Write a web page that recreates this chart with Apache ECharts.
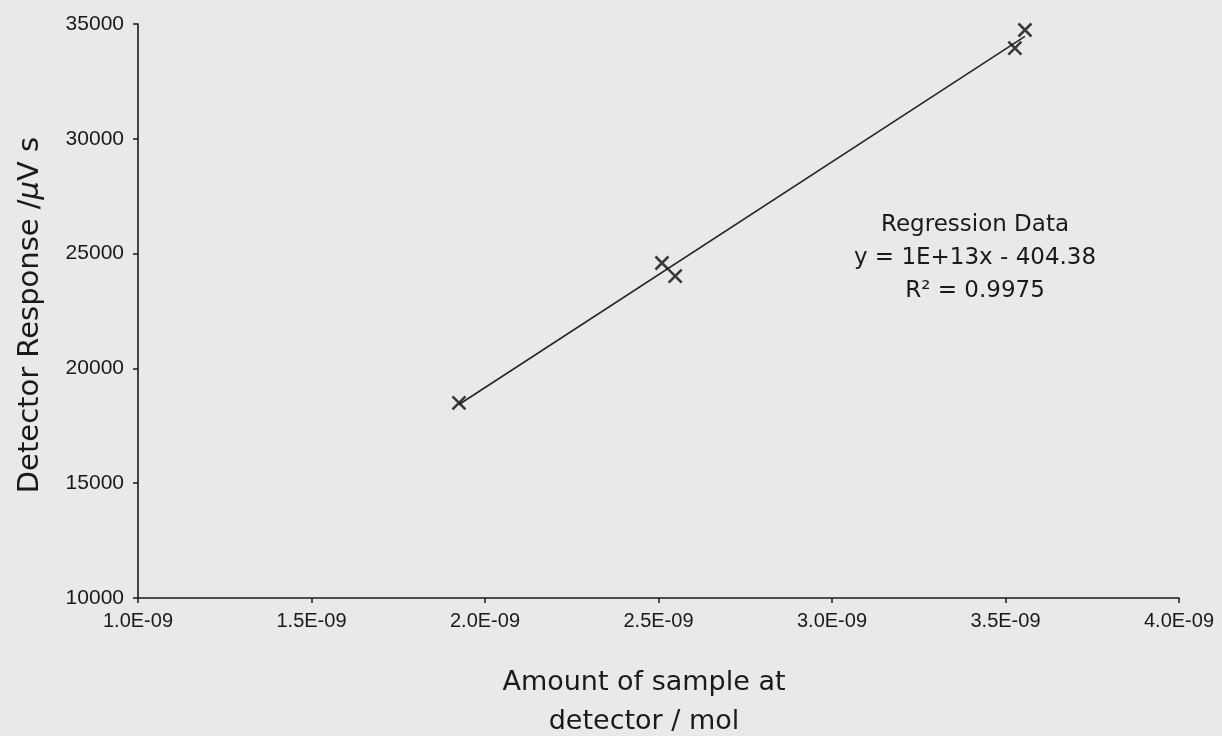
<!DOCTYPE html>
<html>
<head>
<meta charset="utf-8">
<script src="https://cdn.jsdelivr.net/npm/echarts@6/dist/echarts.min.js"></script>
<style>html,body{margin:0;padding:0;background:#e9e9e9;}#c{width:1222px;height:736px;}</style>
</head>
<body>
<div id="c"></div>
<script>
// Data
var amountMol = [1.925e-9, 2.510e-9, 2.548e-9, 3.527e-9, 3.556e-9];
var responseUVs = [18500, 24590, 24020, 33950, 34740];
var regressionLines = ['Regression Data', 'y = 1E+13x - 404.38', 'R\u00B2 = 0.9975'];
var xAxisTitle = 'Amount of sample at\ndetector / mol';
var yAxisTitleParts = ['Detector Response /', '\u03BC', 'V s'];

function fmtExp(v) {
  var s = Number(v).toExponential(1).split('e');
  var e = parseInt(s[1], 10);
  return s[0] + 'E' + (e < 0 ? '-' : '+') + String(Math.abs(e)).padStart(2, '0');
}

// least-squares fit computed from the data
var n = amountMol.length, mx = 0, my = 0;
for (var i = 0; i < n; i++) { mx += amountMol[i]; my += responseUVs[i]; }
mx /= n; my /= n;
var sxy = 0, sxx = 0;
for (i = 0; i < n; i++) { sxy += (amountMol[i] - mx) * (responseUVs[i] - my); sxx += (amountMol[i] - mx) * (amountMol[i] - mx); }
var slope = sxy / sxx, icpt = my - slope * mx;
var xmin = Math.min.apply(null, amountMol), xmax = Math.max.apply(null, amountMol);
var fitLine = [[xmin, slope * xmin + icpt], [xmax, slope * xmax + icpt]];

var pts = amountMol.map(function (x, k) { return [x, responseUVs[k]]; });
var ink = '#1a1a1a';

var chart = echarts.init(document.getElementById('c'));
chart.setOption({
  backgroundColor: '#e9e9e9',
  animation: false,
  grid: { left: 138, right: 43, top: 24, bottom: 138 },
  xAxis: {
    type: 'value', min: 1e-9, max: 4e-9, interval: 0.5e-9,
    splitLine: { show: false },
    axisLine: { lineStyle: { color: ink, width: 1.6 } },
    axisTick: { show: true, length: 5, lineStyle: { color: ink, width: 1.5 } },
    axisLabel: { formatter: fmtExp, color: ink, fontFamily: 'Liberation Sans', fontSize: 20, margin: 13 }
  },
  yAxis: {
    type: 'value', min: 10000, max: 35000, interval: 5000,
    splitLine: { show: false },
    axisLine: { show: true, lineStyle: { color: ink, width: 1.6 } },
    axisTick: { show: true, length: 5, lineStyle: { color: ink, width: 1.5 } },
    axisLabel: { formatter: function (v) { return String(v); }, color: ink, fontFamily: 'Liberation Sans', fontSize: 21, margin: 14 }
  },
  series: [
    {
      type: 'line', data: fitLine, symbol: 'none', silent: true,
      lineStyle: { color: '#262626', width: 1.6 }, z: 2
    },
    {
      type: 'scatter', data: pts,
      symbol: 'path://M0,0L10,10M10,0L0,10', symbolSize: 13,
      itemStyle: { color: 'rgba(0,0,0,0)', borderColor: '#0d0d0d', borderWidth: 2.6 }, z: 3
    }
  ],
  graphic: [
    {
      type: 'text', x: 30, y: 315, rotation: Math.PI / 2,
      style: {
        text: '{n|' + yAxisTitleParts[0] + '}{i|' + yAxisTitleParts[1] + '}{n|' + yAxisTitleParts[2] + '}',
        align: 'center', verticalAlign: 'middle',
        rich: {
          n: { fontFamily: 'DejaVu Sans', fontSize: 29, fill: ink, color: ink },
          i: { fontFamily: 'DejaVu Sans', fontSize: 29, fontStyle: 'italic', fill: ink, color: ink }
        }
      }
    },
    {
      type: 'text', x: 644, y: 702,
      style: {
        text: xAxisTitle, align: 'center', verticalAlign: 'middle',
        fontFamily: 'DejaVu Sans', fontSize: 27, lineHeight: 39, fill: ink
      }
    },
    {
      type: 'text', x: 975, y: 258,
      style: {
        text: regressionLines.join('\n'), align: 'center', verticalAlign: 'middle',
        fontFamily: 'DejaVu Sans', fontSize: 23, lineHeight: 33, fill: ink
      }
    }
  ]
});
</script>
</body>
</html>
